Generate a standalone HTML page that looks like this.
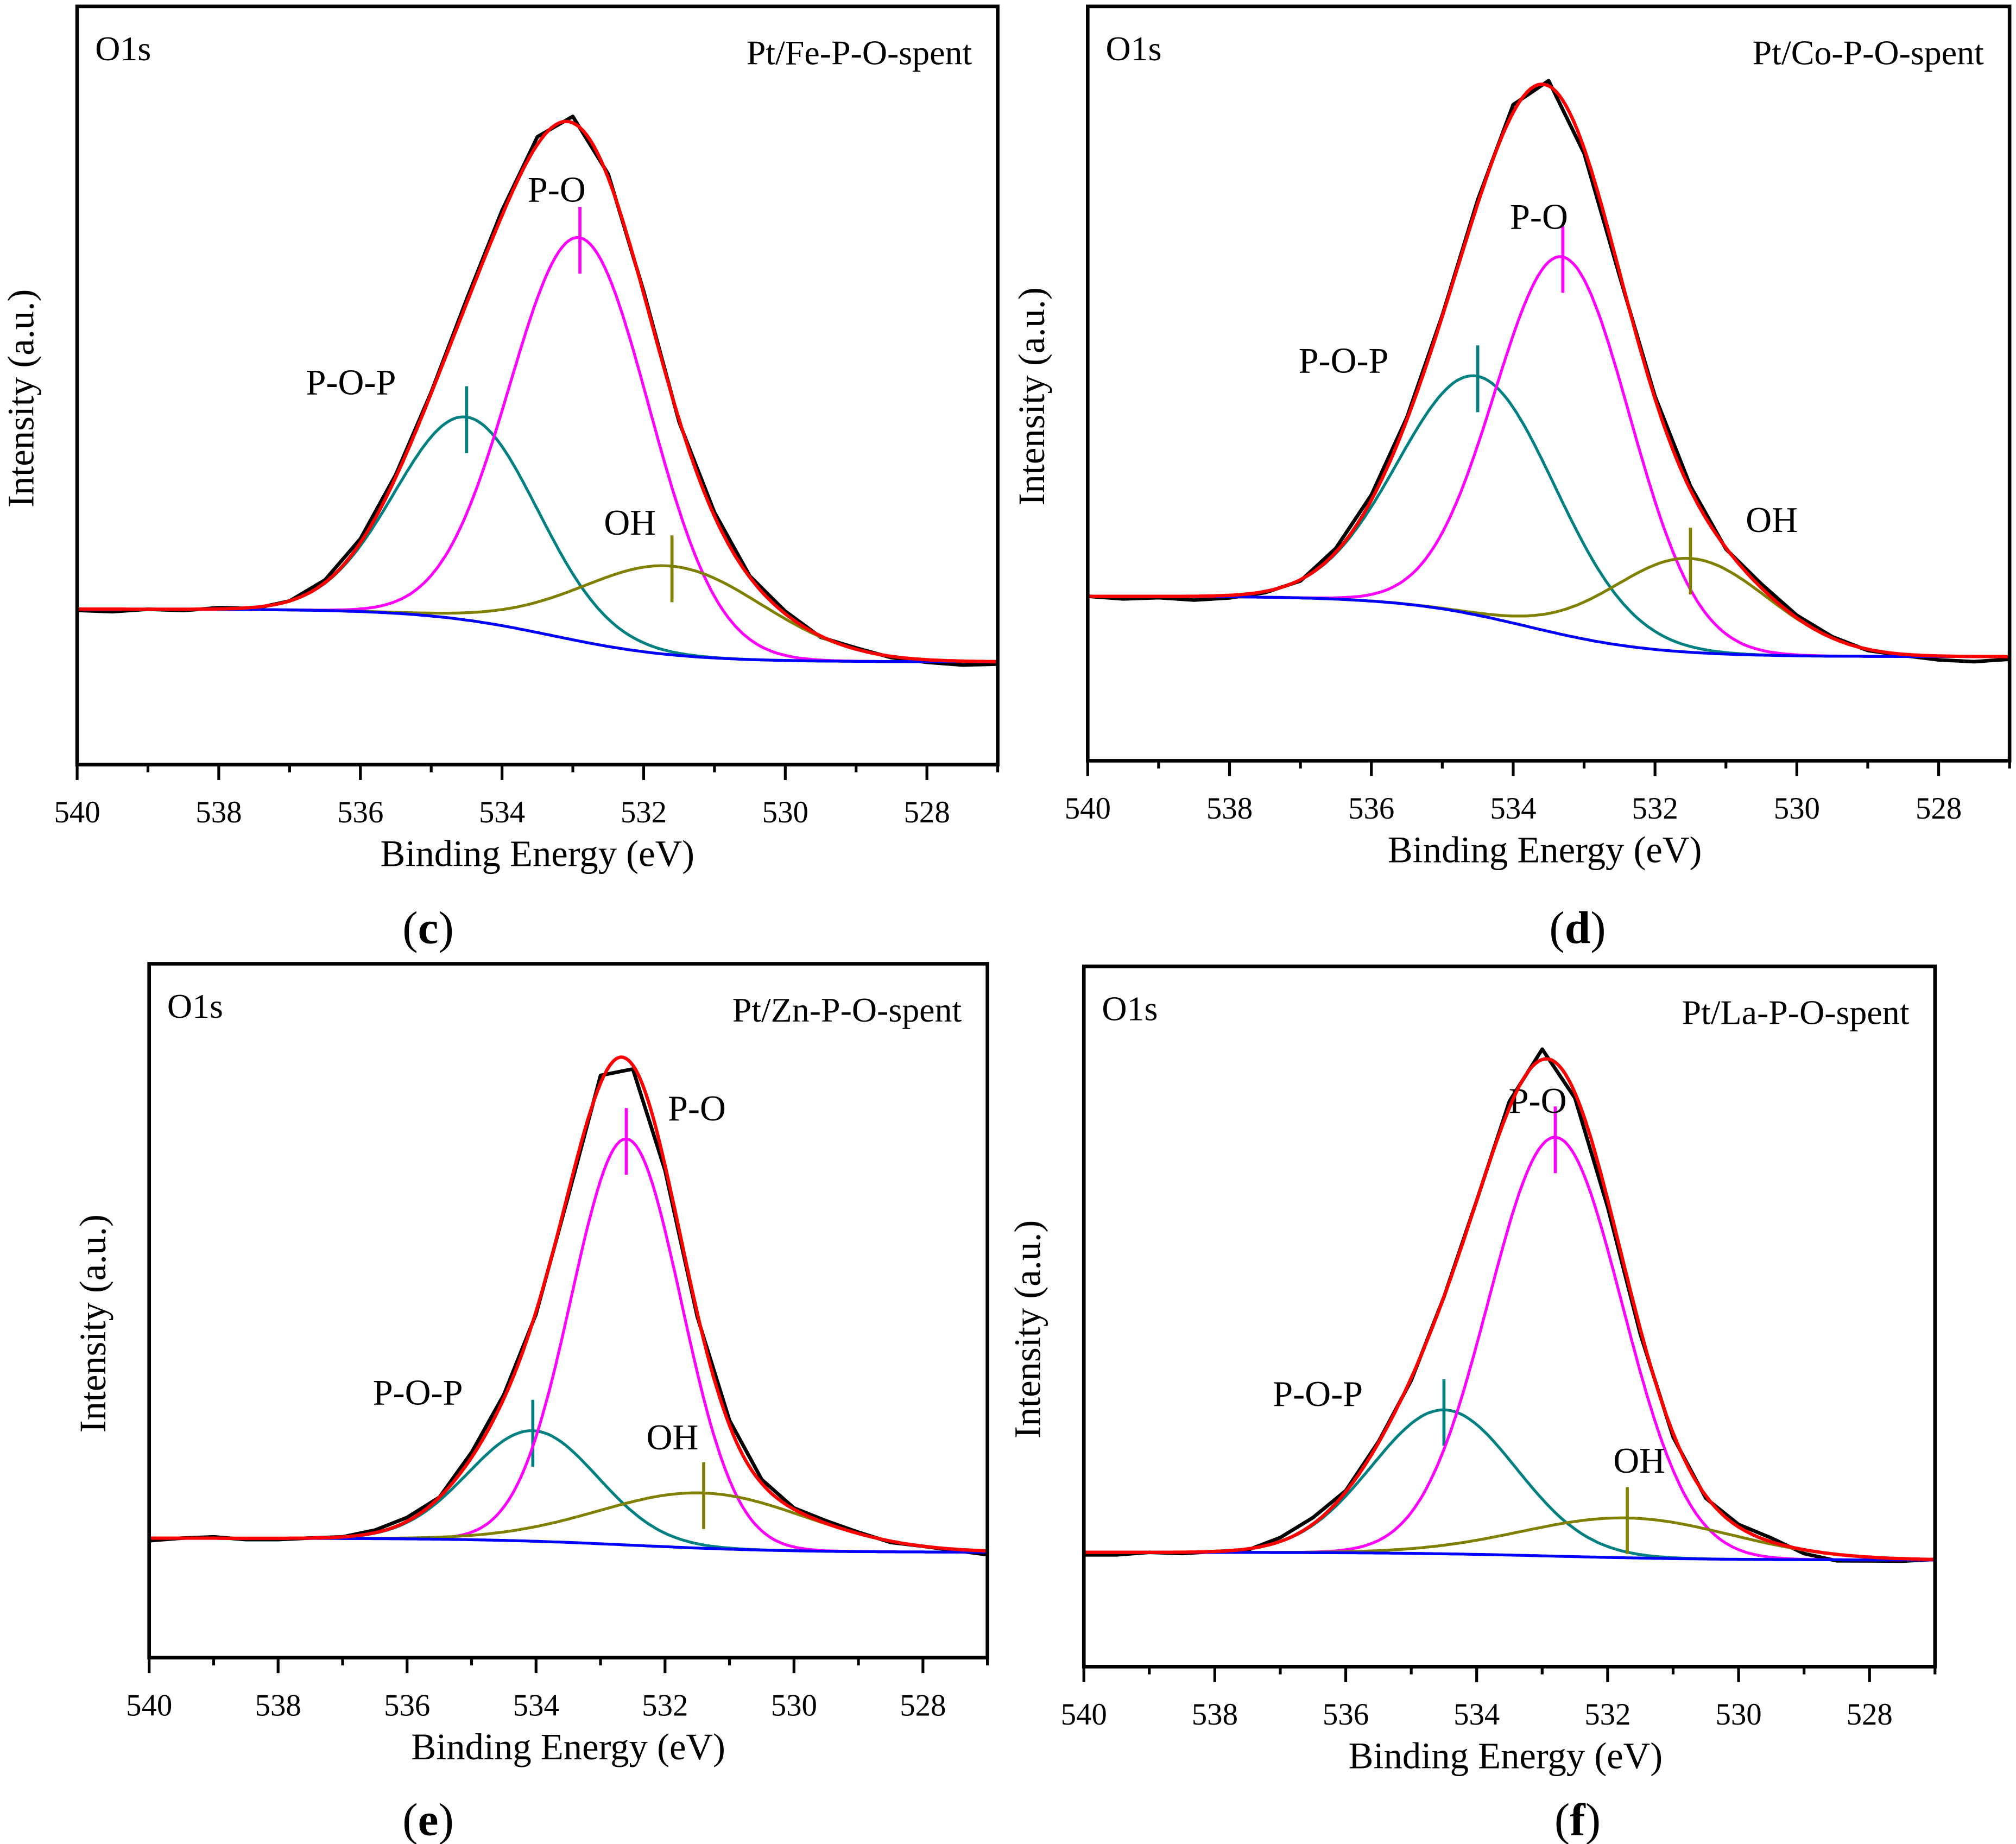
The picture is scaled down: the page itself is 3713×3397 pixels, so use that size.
<!DOCTYPE html>
<html><head><meta charset="utf-8"><style>html,body{margin:0;padding:0;background:#fff}svg{display:block}text{font-family:"Liberation Serif",serif;fill:#000}</style></head>
<body>
<svg id="fig" xmlns="http://www.w3.org/2000/svg" width="3713" height="3397" viewBox="0 0 1568 1435" preserveAspectRatio="none"></svg>
<script>
// ---- data ----
const panelIds = ['c','d','e','f'];
const sampleNames = ['Pt/Fe-P-O-spent','Pt/Co-P-O-spent','Pt/Zn-P-O-spent','Pt/La-P-O-spent'];
const xTicks = [540,538,536,534,532,530,528];
// background: [left level, right level, center eV, width eV]
const bgC = [121,80,533.3,0.9];
const bgD = [128,81,533.8,0.9];
const bgE = [93,82,532.5,1.2];
const bgF = [89,83,532.8,1.2];
// peaks: [center eV, amplitude, sigma]
const popC = [534.5,158,1.0],  poC = [532.9,314,0.98], ohC = [531.6,69,1.3];
const popD = [534.5,186,1.1],  poD = [533.3,294,0.95], ohD = [531.5,73,1.1];
const popE = [534.05,86,1.0],  poE = [532.6,316,0.85], ohE = [531.4,43,1.6];
const popF = [534.5,112,1.1],  poF = [532.8,326,1.02], ohF = [531.7,31,1.6];
// experimental residuals vs fit, every 0.5 eV from 540 to 527
const resC = [-1,-2,0,-1,1,-1,0,2,3,2,1,3,4,6,5,3,2,-2,3,1,2,-1,1,-1,-2,-3,-2];
const resD = [0,-2,-1,-3,-2,-1,-1,3,4,2,1,3,6,4,-4,-3,2,3,-1,3,2,1,-1,-1,-3,-4,-2];
const resE = [-2,0,1,-1,-1,0,0,2,3,0,4,3,-2,-3,6,-3,-4,-3,4,3,1,2,1,-1,0,-1,-3];
const resF = [-2,-2,0,-1,0,-1,3,5,1,1,-2,0,0,5,8,-4,-6,-4,-3,-2,2,3,-3,-5,-3,-2,0];
const bgs=[bgC,bgD,bgE,bgF], peaks=[[popC,poC,ohC],[popD,poD,ohD],[popE,poE,ohE],[popF,poF,ohF]], ress=[resC,resD,resE,resF];
// ---- layout ----
const boxes=[[60,776,5,595],[846,1563,5,592],[116,768,750,1290],[843,1505,752,1297]];
const lblPos=[[[273,307],[433,157],[490,416]],[[1045,290],[1197,178],[1378,414]],[[325,1093],[542,872],[523,1128]],[[1025,1094],[1196,866],[1275,1146]]];
const NS='http://www.w3.org/2000/svg', svg=document.getElementById('fig');
function mk(t,a,p){const e=document.createElementNS(NS,t);for(const k in a)e.setAttribute(k,a[k]);(p||svg).appendChild(e);return e;}
const sig=z=>1/(1+Math.exp(-z));
peaks.forEach((pk,i)=>{
  const [x0,x1,y0,y1]=boxes[i], bg=bgs[i];
  const g=mk('g',{});
  
  
  const X=e=>x0+(540-e)*(x1-x0)/13, Y=v=>y1-v;
  const B=e=>bg[1]+(bg[0]-bg[1])*sig((e-bg[2])/bg[3]);
  const G=(p,e)=>p[1]*Math.exp(-((e-p[0])**2)/(2*p[2]*p[2]));
  const F=e=>B(e)+pk.reduce((s,p)=>s+G(p,e),0);
  const path=f=>{let d='';for(let e=540;e>=527-1e-9;e-=0.05)d+=(d?'L':'M')+X(e).toFixed(1)+','+Y(f(e)).toFixed(1);return d;};
  let d='';const r=ress[i];
  for(let k=0;k<r.length;k++){const e=540-k*0.5;d+=(d?'L':'M')+X(e).toFixed(1)+','+Y(F(e)+r[k]).toFixed(1);}
  const ex=mk('path',{d,fill:'none',stroke:'#000','stroke-width':2.8,'stroke-linejoin':'round'},g);
  
  
  const cols=['#008080','#ff00ff','#808000'], names=['pop','po','oh'], labs=['P-O-P','P-O','OH'];
  pk.forEach((p,j)=>{
    const c=mk('path',{d:path(e=>B(e)+G(p,e)),fill:'none',stroke:cols[j],'stroke-width':2.2},g);
    
    
    const py=Y(B(p[0])+p[1]);
    const m=mk('line',{x1:X(p[0]),x2:X(p[0]),y1:py-24,y2:py+28,stroke:cols[j],'stroke-width':2.4},g);
    
    
    const t=mk('text',{x:lblPos[i][j][0],y:lblPos[i][j][1],'font-size':28,'text-anchor':'middle'},g);
    t.textContent=labs[j];
    
    
  });
  const bl=mk('path',{d:path(B),fill:'none',stroke:'#0000ff','stroke-width':2.2},g);
  
  
  const env=mk('path',{d:path(F),fill:'none',stroke:'#ff0000','stroke-width':2.6},g);
  
  
  const bx=mk('rect',{x:x0,y:y0,width:x1-x0,height:y1-y0,fill:'none',stroke:'#000','stroke-width':2.8},g);
  
  
  for(let e=540;e>=527;e--){
    const maj=e%2===0;
    const tk=mk('line',{x1:X(e),x2:X(e),y1:y1,y2:y1+(maj?12:6),stroke:'#000','stroke-width':2.2},g);
    
    
  }
  xTicks.forEach(v=>{
    const t=mk('text',{x:X(v),y:y1+45,'font-size':24,'text-anchor':'middle'},g);
    t.textContent=v;
    
    
  });
  const xt=mk('text',{x:(x0+x1)/2+(i%2?-3:0),y:y1+79,'font-size':29,'text-anchor':'middle'},g);
  xt.textContent='Binding Energy (eV)';
  
  
  const yx=x0-34, ym=(y0+y1)/2+10;
  const yt=mk('text',{x:yx,y:ym,'font-size':29,'text-anchor':'middle',transform:`rotate(-90 ${yx} ${ym})`},g);
  yt.textContent='Intensity (a.u.)';
  
  
  const o=mk('text',{x:x0+14,y:y0+42,'font-size':27},g);
  o.textContent='O1s';
  
  
  const s=mk('text',{x:x1-20,y:y0+45,'font-size':27,'text-anchor':'end'},g);
  s.textContent=sampleNames[i];
  
  
  const pl=mk('text',{x:[333,1227,333,1227][i],y:[734,734,1428,1428][i],'font-size':36,'text-anchor':'middle'},g);
  pl.innerHTML='(<tspan font-weight="bold">'+panelIds[i]+'</tspan>)';
  
  
});
</script>
</body></html>
